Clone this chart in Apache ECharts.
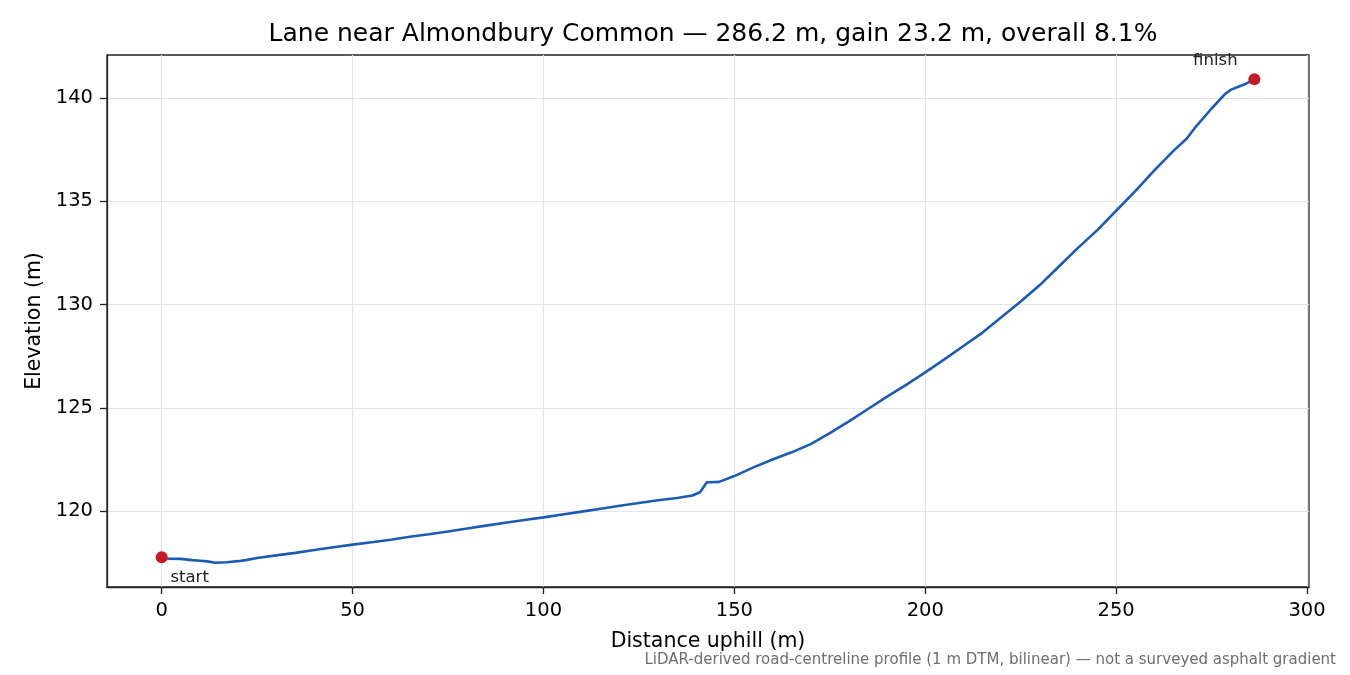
<!DOCTYPE html>
<html>
<head>
<meta charset="utf-8">
<script src="https://cdn.jsdelivr.net/npm/echarts@6/dist/echarts.min.js"></script>
<style>
  html, body { margin: 0; padding: 0; background: #fff; }
  #chart { width: 1350px; height: 675px; }
</style>
</head>
<body>
<div id="chart"></div>
<script>
// profile samples (distance uphill in m, elevation in m)
const distances = [0, 2, 5, 8, 10, 12, 14, 17, 20, 22, 25, 30, 35, 40, 45, 50, 55, 60, 65, 70,
  75, 80, 85, 90, 95, 100, 105, 110, 115, 120, 125, 130, 135, 139, 141, 142.8, 144, 146, 150, 155,
  160, 165, 170, 175, 180, 185, 190, 195, 200, 205, 210, 215, 220, 225, 230, 235, 240, 245, 250, 255,
  260, 265, 268.5, 271, 275, 278.5, 280, 282, 284, 286.2];
const elevations = [117.77, 117.70, 117.69, 117.63, 117.60, 117.57, 117.50, 117.53, 117.58, 117.63,
  117.73, 117.86, 117.98, 118.12, 118.25, 118.38, 118.50, 118.62, 118.76, 118.88,
  119.02, 119.16, 119.30, 119.44, 119.57, 119.70, 119.84, 119.98, 120.12, 120.26,
  120.40, 120.53, 120.64, 120.76, 120.92, 121.40, 121.40, 121.42, 121.70, 122.12,
  122.50, 122.85, 123.25, 123.78, 124.35, 124.95, 125.55, 126.12, 126.72, 127.35,
  128.00, 128.65, 129.40, 130.15, 130.95, 131.85, 132.75, 133.60, 134.55, 135.50,
  136.50, 137.45, 138.05, 138.65, 139.50, 140.20, 140.40, 140.55, 140.70, 140.92];

const xTicks = [0, 50, 100, 150, 200, 250, 300];
const yTicks = [120, 125, 130, 135, 140];
const endLabels = ['start', 'finish'];

const titleText = 'Lane near Almondbury Common \u2014 286.2 m, gain 23.2 m, overall 8.1%';
const noteText = 'LiDAR-derived road-centreline profile (1 m DTM, bilinear) \u2014 not a surveyed asphalt gradient';

const FONT = 'DejaVu Sans';

const profile = distances.map((d, i) => [d, elevations[i]]);
const last = distances.length - 1;
const ends = [
  { value: [distances[0], elevations[0]], name: endLabels[0],
    label: { offset: [28, 20] } },
  { value: [distances[last], elevations[last]], name: endLabels[1],
    label: { offset: [-39, -18] } }
];

// matplotlib-style 5% margins around the data
const xSpan = distances[last] - distances[0];
const yMin = Math.min(...elevations), yMax = Math.max(...elevations);
const ySpan = yMax - yMin;

const chart = echarts.init(document.getElementById('chart'));
chart.setOption({
  animation: false,
  textStyle: { fontFamily: FONT },
  title: {
    text: titleText,
    left: 708, top: 17, textAlign: 'center',
    textStyle: { fontFamily: FONT, fontSize: 25, fontWeight: 'normal', color: '#000' }
  },
  graphic: [{
    type: 'text', right: 14, top: 653,
    style: { text: noteText, fontFamily: FONT, fontSize: 15, fill: '#6e6e6e' }
  }],
  grid: {
    left: 107, right: 41, top: 55, bottom: 88,
    show: true, borderColor: '#222', borderWidth: 1.3, backgroundColor: 'transparent'
  },
  xAxis: {
    type: 'value',
    min: distances[0] - 0.05 * xSpan,
    max: distances[last] + 0.05 * xSpan,
    name: 'Distance uphill (m)', nameLocation: 'middle', nameGap: 44,
    nameTextStyle: { fontFamily: FONT, fontSize: 20.5, color: '#000' },
    axisLine: { show: true, onZero: false, lineStyle: { color: '#222', width: 1.3 } },
    axisTick: { show: true, length: 7, customValues: xTicks, lineStyle: { color: '#222', width: 1.3 } },
    axisLabel: { customValues: xTicks, margin: 14, fontSize: 19.5, color: '#000', fontFamily: FONT },
    splitLine: { show: true, lineStyle: { color: '#e4e4e4', width: 1.2 } }
  },
  yAxis: {
    type: 'value',
    min: yMin - 0.05 * ySpan,
    max: yMax + 0.05 * ySpan,
    name: 'Elevation (m)', nameLocation: 'middle', nameGap: 62, nameRotate: 90,
    nameTextStyle: { fontFamily: FONT, fontSize: 20.5, color: '#000' },
    axisLine: { show: true, onZero: false, lineStyle: { color: '#222', width: 1.3 } },
    axisTick: { show: true, length: 7, customValues: yTicks, lineStyle: { color: '#222', width: 1.3 } },
    axisLabel: { customValues: yTicks, margin: 14, fontSize: 19.5, color: '#000', fontFamily: FONT },
    splitLine: { show: true, lineStyle: { color: '#e4e4e4', width: 1.2 } }
  },
  series: [
    {
      type: 'line',
      data: profile,
      showSymbol: false,
      lineStyle: { color: '#1a5cb4', width: 2.6 },
      z: 2
    },
    {
      type: 'scatter',
      data: ends,
      symbolSize: 12,
      itemStyle: { color: '#c41a2a', opacity: 1 },
      label: {
        show: true, position: 'inside', formatter: '{b}',
        fontFamily: FONT, fontSize: 16.5, color: '#222'
      },
      z: 3
    }
  ]
});
</script>
</body>
</html>
